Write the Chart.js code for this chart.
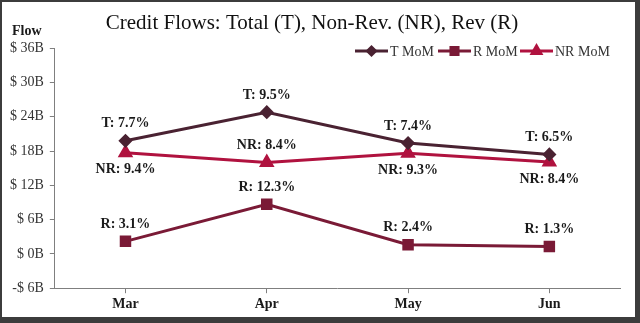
<!DOCTYPE html>
<html>
<head>
<meta charset="utf-8">
<script src="https://cdn.jsdelivr.net/npm/chart.js@4"></script>
<style>
  html, body { margin: 0; padding: 0; background: #fff; }
  #wrap {
    width: 640px; height: 323px; box-sizing: border-box;
    border-top: 2px solid #3c3c3c; border-left: 2px solid #3c3c3c;
    border-right: 5px solid #3c3c3c; border-bottom: 6px solid #3c3c3c;
    background: #fff;
  }
  canvas { display: block; }
</style>
</head>
<body>
<div id="wrap"><canvas id="chart" width="633" height="315"></canvas></div>
<script>
const months = ["Mar", "Apr", "May", "Jun"];
const totalFlow = [19.8, 24.8, 19.4, 17.4];
const revFlow = [2.2, 8.7, 1.6, 1.3];
const nonRevFlow = [17.7, 16.0, 17.6, 16.1];
const totalMoM = ["T: 7.7%", "T: 9.5%", "T: 7.4%", "T: 6.5%"];
const revMoM = ["R: 3.1%", "R: 12.3%", "R: 2.4%", "R: 1.3%"];
const nonRevMoM = ["NR: 9.4%", "NR: 8.4%", "NR: 9.3%", "NR: 8.4%"];
const nonRevSide = ["below", "above", "below", "below"];
const yTicks = [-6, 0, 6, 12, 18, 24, 30, 36];

const serif = "'Liberation Serif', 'DejaVu Serif', serif";

// value labels + "Flow" caption + custom line/marker legend
const extras = {
  id: "extras",
  afterDatasetsDraw(chart) {
    const ctx = chart.ctx;
    ctx.save();
    ctx.font = "bold 14px " + serif;
    ctx.fillStyle = "#1a1a1a";
    ctx.textAlign = "center";
    ctx.textBaseline = "middle";
    chart.data.datasets.forEach((ds, i) => {
      chart.getDatasetMeta(i).data.forEach((pt, j) => {
        const dy = ds.sides[j] === "below" ? 17 : -17;
        ctx.fillText(ds.tags[j], pt.x, pt.y + dy);
      });
    });

    ctx.font = "bold 14px " + serif;
    ctx.textAlign = "left";
    ctx.fillText("Flow", 10, 29);

    // legend
    const items = [[353, 0], [436, 1], [518, 2]];
    ctx.font = "14px " + serif;
    items.forEach(([x, i]) => {
      const ds = chart.data.datasets[i];
      const y = 49;
      ctx.strokeStyle = ds.borderColor;
      ctx.lineWidth = 3;
      ctx.beginPath();
      ctx.moveTo(x, y);
      ctx.lineTo(x + 33, y);
      ctx.stroke();
      Chart.helpers.drawPoint(ctx, {
        pointStyle: ds.pointStyle, radius: ds.pointRadius - 1, rotation: 0, borderWidth: 1
      }, x + 16.5, y);
      ctx.fillStyle = ds.borderColor;
      ctx.fill();
      ctx.fillStyle = "#333";
      ctx.fillText(ds.label, x + 35, y + 1);
    });
    ctx.restore();
  }
};

const mk = (label, data, tags, sides, color, style, radius) => ({
  label, data, tags, sides,
  borderColor: color, backgroundColor: color,
  pointBackgroundColor: color, pointBorderColor: color,
  pointStyle: style, pointRadius: radius, pointHoverRadius: radius,
  borderWidth: 3, tension: 0
});

new Chart(document.getElementById("chart"), {
  type: "line",
  data: {
    labels: months,
    datasets: [
      mk("T MoM", totalFlow, totalMoM, ["above", "above", "above", "above"], "#4a2232", "rectRot", 5),
      mk("R MoM", revFlow, revMoM, ["above", "above", "above", "above"], "#7a1a36", "rect", 6),
      mk("NR MoM", nonRevFlow, nonRevMoM, nonRevSide, "#b0123f", "triangle", 6)
    ]
  },
  options: {
    responsive: false,
    animation: false,
    layout: { padding: { left: 2, right: 15, top: 0, bottom: 1 } },
    plugins: {
      legend: { display: false },
      tooltip: { enabled: false },
      title: {
        display: true,
        text: "Credit Flows: Total (T), Non-Rev. (NR), Rev (R)",
        font: { family: serif, size: 21, weight: "normal" },
        color: "#111",
        padding: { top: 9, bottom: 12 }
      }
    },
    scales: {
      x: {
        offset: true,
        grid: { display: true, drawOnChartArea: false, offset: false, tickLength: 5, color: "#7f7f7f" },
        border: { color: "#7f7f7f", width: 1 },
        ticks: { font: { family: serif, size: 14, weight: "bold" }, color: "#1a1a1a", padding: 3 }
      },
      y: {
        min: -6, max: 36,
        afterBuildTicks: (axis) => { axis.ticks = yTicks.map((v) => ({ value: v })); },
        grid: { drawOnChartArea: false, tickLength: 5, color: "#7f7f7f" },
        border: { color: "#7f7f7f", width: 1 },
        ticks: {
          font: { family: serif, size: 14 }, color: "#333", padding: 6,
          callback: (v) => (v < 0 ? "-$ " + Math.abs(v) : "$ " + v) + "B"
        }
      }
    }
  },
  plugins: [extras]
});
</script>
</body>
</html>
